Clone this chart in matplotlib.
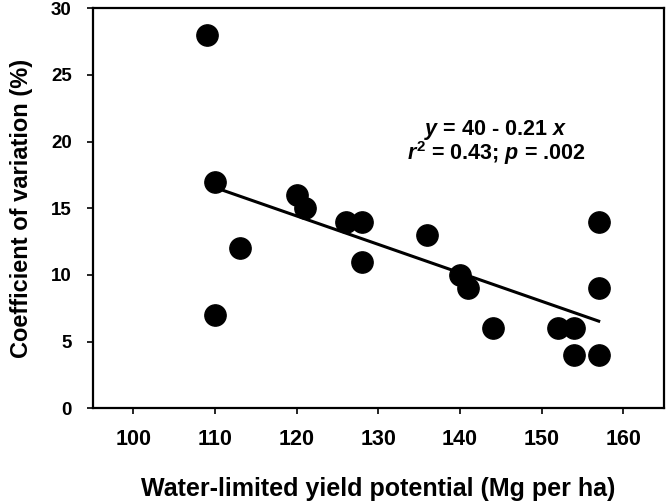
import numpy as np
import matplotlib
matplotlib.use("Agg")
import matplotlib.pyplot as plt

plt.rcParams['font.family'] = ['Liberation Sans', 'DejaVu Sans']
plt.rcParams['font.weight'] = 'bold'
plt.rcParams['mathtext.fontset'] = 'custom'
plt.rcParams['mathtext.rm'] = 'Liberation Sans:bold'
plt.rcParams['mathtext.it'] = 'Liberation Sans:bold:italic'

# Data
yield_potential = [109, 110, 110, 113, 120, 121, 126, 128, 128, 136,
                   140, 141, 144, 152, 154, 154, 157, 157, 157]
cv_percent = [28, 17, 7, 12, 16, 15, 14, 14, 11, 13,
              10, 9, 6, 6, 6, 4, 14, 9, 4]
fit_range = [110, 157]
x_ticks = [100, 110, 120, 130, 140, 150, 160]
y_ticks = [0, 5, 10, 15, 20, 25, 30]

fig = plt.figure(figsize=(6.66, 5.03), dpi=100)
ax = fig.add_axes([0.139, 0.188, 0.858, 0.796])

ax.scatter(yield_potential, cv_percent, s=235, color='black', zorder=3)

# least squares fit
slope, intercept = np.polyfit(yield_potential, cv_percent, 1)
xf = np.array(fit_range)
ax.plot(xf, intercept + slope * xf, color='black', lw=2.2, zorder=2)

ax.text(144.4, 20.86, '$y$ = 40 - 0.21 $x$', ha='center', va='center',
        fontsize=15.5, fontweight='bold')
ax.text(144.4, 19.1, '$r^{\\mathrm{2}}$ = 0.43; $p$ = .002', ha='center', va='center',
        fontsize=15.5, fontweight='bold')

ax.set_xlim(95, 165)
ax.set_ylim(0, 30)
ax.set_xticks(x_ticks)
ax.set_yticks(y_ticks)
ax.tick_params(axis='both', direction='out', length=4, width=1.2)
ax.tick_params(axis='x', pad=11, labelsize=15.5)
ax.tick_params(axis='y', pad=11, labelsize=13.5)
for lab in ax.get_xticklabels() + ax.get_yticklabels():
    lab.set_fontweight('bold')
for sp in ax.spines.values():
    sp.set_linewidth(1.6)

ax.set_xlabel('Water-limited yield potential (Mg per ha)', fontsize=18,
              fontweight='bold', labelpad=19)
ax.set_ylabel('Coefficient of variation (%)', fontsize=17,
              fontweight='bold', labelpad=13)

fig.savefig('out.png', dpi=100)
